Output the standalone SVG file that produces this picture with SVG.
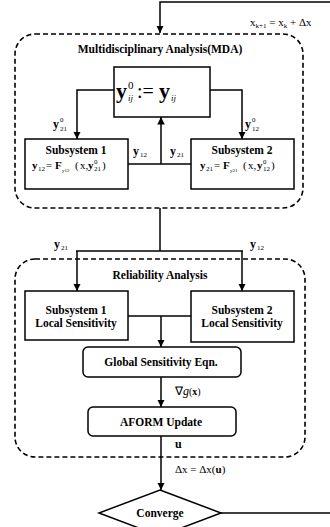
<svg xmlns="http://www.w3.org/2000/svg" width="330" height="527" viewBox="0 0 330 527">
<style>
.box{fill:#fff;stroke:#000;stroke-width:1.5}
.grp{fill:none;stroke:#000;stroke-width:1.6;stroke-dasharray:5 3}
.ln{fill:none;stroke:#000;stroke-width:1.5}
.t{font-family:"Liberation Serif",serif;font-weight:bold;font-size:11.5px;text-anchor:middle;fill:#000}
.m{font-family:"Liberation Serif",serif;font-size:11px;fill:#000}
.mb{font-family:"Liberation Serif",serif;font-weight:bold;font-size:12px;fill:#000}
.s{font-family:"Liberation Serif",serif;font-size:7px;fill:#000}
</style>
<defs>
<marker id="ah" viewBox="0 0 10 10" refX="10" refY="5" markerWidth="5" markerHeight="6" orient="auto" markerUnits="strokeWidth">
<path d="M0,0 L10,5 L0,10 z" fill="#000"/>
</marker>
</defs>
<rect width="330" height="527" fill="#fff"/>

<g id="mda">
<rect class="grp" x="15" y="34" width="288" height="174" rx="20" ry="20"/>
<text class="t" x="160" y="53" style="font-size:11.5px">Multidisciplinary Analysis(MDA)</text>
</g>

<g id="reliability">
<rect class="grp" x="15" y="259" width="290" height="198" rx="20" ry="20"/>
<text class="t" x="160" y="279" style="font-size:11.5px">Reliability Analysis</text>
</g>

<g id="connectors">
<polyline class="ln" points="330,2 160,2 160,33" marker-end="url(#ah)"/>
<polyline class="ln" points="114,90 77,90 77,139" marker-end="url(#ah)"/>
<polyline class="ln" points="210,90 242,90 242,139" marker-end="url(#ah)"/>
<line class="ln" x1="128" y1="164" x2="191" y2="164"/>
<line class="ln" x1="161" y1="164" x2="161" y2="117" marker-end="url(#ah)"/>
<line class="ln" x1="160" y1="208" x2="160" y2="251"/>
<line class="ln" x1="76" y1="251" x2="243" y2="251"/>
<line class="ln" x1="77" y1="251" x2="77" y2="291" marker-end="url(#ah)"/>
<line class="ln" x1="242" y1="251" x2="242" y2="291" marker-end="url(#ah)"/>
<line class="ln" x1="128" y1="316" x2="191" y2="316"/>
<line class="ln" x1="161" y1="316" x2="161" y2="347" marker-end="url(#ah)"/>
<line class="ln" x1="161" y1="377" x2="161" y2="407" marker-end="url(#ah)"/>
<line class="ln" x1="161" y1="436" x2="161" y2="490" marker-end="url(#ah)"/>
<line class="ln" x1="221" y1="513" x2="330" y2="513"/>
</g>

<g id="labels">
<text class="m" x="250" y="26">x<tspan class="s" dy="2">k+1</tspan><tspan dy="-2"> = x</tspan><tspan class="s" dy="2">k</tspan><tspan dy="-2"> + Δx</tspan></text>
<text class="mb" x="53" y="128">y</text><text class="s" x="60" y="122">0</text><text class="s" x="60" y="131">21</text>
<text class="mb" x="245" y="128">y</text><text class="s" x="252" y="122">0</text><text class="s" x="252" y="131">12</text>
<text class="mb" x="133" y="155">y</text><text class="s" x="140" y="157">12</text>
<text class="mb" x="170" y="155">y</text><text class="s" x="177" y="157">21</text>
<text class="mb" x="54" y="248">y</text><text class="s" x="61" y="250">21</text>
<text class="mb" x="250" y="248">y</text><text class="s" x="257" y="250">12</text>
<text class="m" x="175" y="395" style="font-size:12px">∇<tspan style="font-style:italic">g</tspan><tspan style="font-size:10px">(</tspan><tspan style="font-weight:bold;font-size:10px">x</tspan><tspan style="font-size:10px">)</tspan></text>
<text class="mb" x="175" y="448">u</text>
<text class="m" x="175" y="473">Δx = Δx(<tspan style="font-weight:bold">u</tspan>)</text>
</g>

<g id="center">
<rect class="box" x="114" y="67" width="96" height="50"/>
<text class="mb" x="116" y="98" style="font-size:22px">y</text>
<text class="m" x="128" y="89" style="font-size:11px">0</text>
<text class="m" x="128" y="101" style="font-size:9px;font-style:italic">ij</text>
<text class="m" x="137" y="98" style="font-size:20px">:=</text>
<text class="mb" x="159" y="98" style="font-size:22px">y</text>
<text class="m" x="171" y="101" style="font-size:9px;font-style:italic">ij</text>
</g>

<g id="sub1">
<rect class="box" x="25" y="139" width="103" height="50"/>
<text class="t" x="76" y="154">Subsystem 1</text>
<text class="mb" x="32" y="169" style="font-size:11px">y</text><text class="s" x="38" y="171">12</text>
<text class="m" x="46" y="169">=</text>
<text class="mb" x="55" y="169" style="font-size:11px">F</text><text class="s" x="62" y="172" style="font-size:5px">y12</text>
<text class="m" x="75" y="169">(</text>
<text class="m" x="80" y="169">x,</text>
<text class="mb" x="88" y="169" style="font-size:11px">y</text><text class="s" x="94" y="164">0</text><text class="s" x="94" y="171">21</text>
<text class="m" x="102" y="169">)</text>
</g>

<g id="sub2">
<rect class="box" x="191" y="139" width="103" height="50"/>
<text class="t" x="242" y="154">Subsystem 2</text>
<text class="mb" x="200" y="169" style="font-size:11px">y</text><text class="s" x="206" y="171">21</text>
<text class="m" x="214" y="169">=</text>
<text class="mb" x="223" y="169" style="font-size:11px">F</text><text class="s" x="230" y="172" style="font-size:5px">y21</text>
<text class="m" x="243" y="169">(</text>
<text class="m" x="248" y="169">x,</text>
<text class="mb" x="257" y="169" style="font-size:11px">y</text><text class="s" x="263" y="164">0</text><text class="s" x="263" y="171">12</text>
<text class="m" x="271" y="169">)</text>
</g>

<g id="ls1">
<rect class="box" x="25" y="291" width="103" height="49"/>
<text class="t" x="76" y="314">Subsystem 1</text>
<text class="t" x="76" y="327">Local Sensitivity</text>
</g>

<g id="ls2">
<rect class="box" x="191" y="291" width="103" height="51"/>
<text class="t" x="242" y="314">Subsystem 2</text>
<text class="t" x="242" y="327">Local Sensitivity</text>
</g>

<g id="global">
<rect class="box" x="83" y="347" width="158" height="30" rx="5" ry="5"/>
<text class="t" x="161" y="366">Global Sensitivity Eqn.</text>
</g>

<g id="aform">
<rect class="box" x="88" y="407" width="148" height="29" rx="5" ry="5"/>
<text class="t" x="161" y="426">AFORM Update</text>
</g>

<g id="converge">
<polygon class="box" points="160,490 221,513 160,536 99,513"/>
<text class="t" x="160" y="517">Converge</text>
</g>
</svg>
